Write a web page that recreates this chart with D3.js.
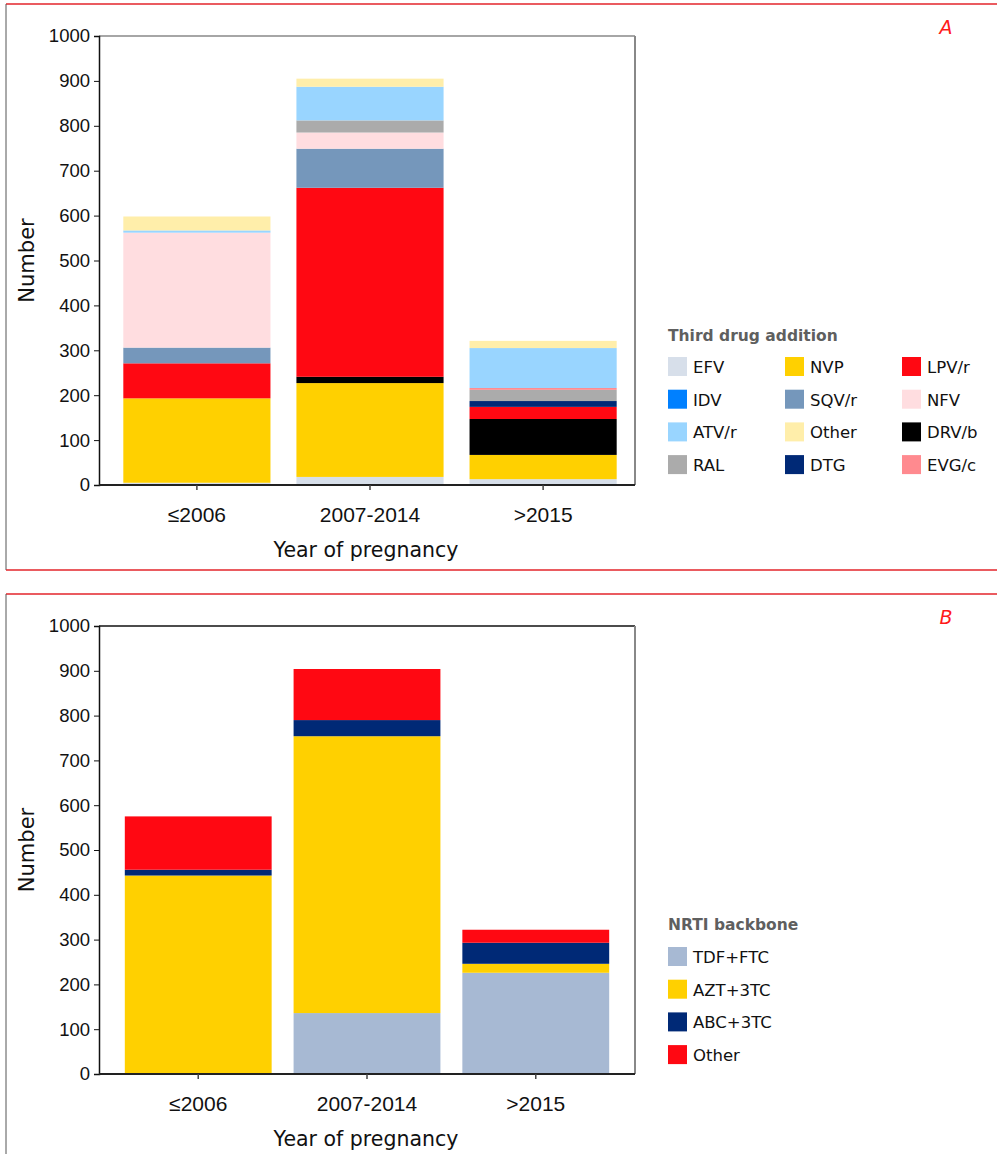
<!DOCTYPE html>
<html><head><meta charset="utf-8">
<script src="https://cdn.jsdelivr.net/npm/d3@7"></script>
<style>
body{margin:0;background:#fff;}
svg{display:block;font-family:"DejaVu Sans",Verdana,sans-serif;}
</style></head>
<body><svg id="chart" width="997" height="1154"></svg>
<script>
const categories = ["≤2006", "2007-2014", ">2015"];
const yTicks = [0, 100, 200, 300, 400, 500, 600, 700, 800, 900, 1000];

// Panel A: third drug addition (stack order bottom → top)
const drugKeys = ["EFV", "NVP", "DRV/b", "LPV/r", "DTG", "SQV/r", "NFV", "IDV", "RAL", "EVG/c", "ATV/r", "Other"];
const drugEFV   = [5, 18, 13];
const drugNVP   = [188, 209, 54];
const drugDRVb  = [0, 14, 80];
const drugLPVr  = [78, 421, 27];
const drugDTG   = [0, 0, 13];
const drugSQVr  = [35, 87, 0];
const drugNFV   = [256, 36, 0];
const drugIDV   = [0, 0, 0];
const drugRAL   = [0, 27, 25];
const drugEVGc  = [0, 0, 4];
const drugATVr  = [5, 75, 89];
const drugOther = [31, 18, 16];
const legendAOrder = ["EFV", "NVP", "LPV/r", "IDV", "SQV/r", "NFV", "ATV/r", "Other", "DRV/b", "RAL", "DTG", "EVG/c"];

// Panel B: NRTI backbone
const nrtiKeys = ["TDF+FTC", "AZT+3TC", "ABC+3TC", "Other"];
const nrtiTDF   = [0, 136, 226];
const nrtiAZT   = [443, 618, 20];
const nrtiABC   = [13, 36, 47];
const nrtiOther = [119, 114, 29];

const drugColors = {"EFV":"#d7dfea","IDV":"#0080ff","ATV/r":"#99d5ff","RAL":"#ababab","NVP":"#ffd000","SQV/r":"#7597bb","Other":"#ffeeaa","DTG":"#002976","LPV/r":"#ff0812","NFV":"#ffdde0","DRV/b":"#000000","EVG/c":"#ff8a8f"};
const nrtiColors = {"TDF+FTC":"#a7b9d3","AZT+3TC":"#ffd000","ABC+3TC":"#002976","Other":"#ff0812"};

const drugSeries = {"EFV":drugEFV,"NVP":drugNVP,"DRV/b":drugDRVb,"LPV/r":drugLPVr,"DTG":drugDTG,"SQV/r":drugSQVr,"NFV":drugNFV,"IDV":drugIDV,"RAL":drugRAL,"EVG/c":drugEVGc,"ATV/r":drugATVr,"Other":drugOther};
const nrtiSeries = {"TDF+FTC":nrtiTDF,"AZT+3TC":nrtiAZT,"ABC+3TC":nrtiABC,"Other":nrtiOther};

const svg = d3.select("#chart");
const red = "#e3242b";

function rows(series, keys){
  return categories.map((c,i)=>{const o={cat:c}; keys.forEach(k=>o[k]=series[k][i]); return o;});
}

function panel(cfg){
  const g = svg.append("g");
  // frame
  g.append("line").attr("x1",6).attr("x2",997).attr("y1",cfg.frameTop).attr("y2",cfg.frameTop).attr("stroke",red).attr("stroke-width",1.5);
  g.append("line").attr("x1",6).attr("x2",6).attr("y1",cfg.frameTop).attr("y2",cfg.frameBottom).attr("stroke","#555").attr("stroke-width",1);
  if (cfg.frameBottom < 1154)
    g.append("line").attr("x1",6).attr("x2",997).attr("y1",cfg.frameBottom).attr("y2",cfg.frameBottom).attr("stroke",red).attr("stroke-width",1.5);
  g.append("text").attr("x",946).attr("y",cfg.frameTop+30).attr("text-anchor","middle").attr("font-style","italic").attr("font-size",19).attr("fill","#ff1a1a").text(cfg.letter);

  const left = 99, right = 635, top = cfg.top, bottom = cfg.bottom;
  const y = d3.scaleLinear().domain([0,1000]).range([bottom, top]);
  const x = d3.scaleBand().domain(categories).range(cfg.xRange).paddingInner(cfg.padIn).paddingOuter(cfg.padOut);

  // box
  g.append("line").attr("x1",left).attr("x2",right).attr("y1",top).attr("y2",top).attr("stroke",cfg.topColor).attr("stroke-width",1.5);
  g.append("line").attr("x1",right).attr("x2",right).attr("y1",top).attr("y2",bottom).attr("stroke","#888").attr("stroke-width",2);

  const stack = d3.stack().keys(cfg.keys)(rows(cfg.series, cfg.keys));
  g.append("g").selectAll("g").data(stack).join("g").attr("fill",d=>cfg.colors[d.key])
    .selectAll("rect").data(d=>d).join("rect")
    .attr("x",d=>x(d.data.cat)).attr("width",x.bandwidth())
    .attr("y",d=>y(d[1])).attr("height",d=>Math.max(0,y(d[0])-y(d[1])));

  const ya = g.append("g").attr("transform",`translate(${left},0)`)
    .call(d3.axisLeft(y).tickValues(yTicks).tickFormat(d3.format("d")).tickSize(5).tickPadding(4));
  ya.select(".domain").attr("stroke","#111").attr("stroke-width",1.5);
  ya.selectAll(".tick line").attr("stroke","#111");
  ya.selectAll("text").attr("font-size",18.5).attr("fill","#111");

  const xa = g.append("g").attr("transform",`translate(0,${bottom})`)
    .call(d3.axisBottom(x).tickSize(5).tickPadding(17).tickSizeOuter(0));
  xa.select(".domain").attr("d",`M${left},0H${right}`).attr("stroke","#222").attr("stroke-width",2);
  xa.selectAll(".tick line").attr("stroke","#444").attr("stroke-width",1.5);
  xa.selectAll("text").attr("font-size",21).attr("fill","#111");

  g.append("text").attr("transform",`translate(34,${(top+bottom)/2}) rotate(-90)`).attr("text-anchor","middle")
    .attr("font-size",21).attr("fill","#111").text("Number");
  g.append("text").attr("x",366).attr("y",bottom+72).attr("text-anchor","middle")
    .attr("font-size",20.5).attr("fill","#111").text("Year of pregnancy");

  // legend
  const lg = g.append("g");
  lg.append("text").attr("x",668).attr("y",cfg.legendTitleY).attr("font-size",15.5).attr("font-weight","bold").attr("fill","#5f5f5f").text(cfg.legendTitle);
  cfg.legendOrder.forEach((k,i)=>{
    const col = i % cfg.cols, row = Math.floor(i / cfg.cols);
    const sx = 668 + col*cfg.colStep, sy = cfg.legendY0 + row*32.7;
    lg.append("rect").attr("x",sx).attr("y",sy).attr("width",19).attr("height",19).attr("fill",cfg.colors[k]);
    lg.append("text").attr("x",sx+25).attr("y",sy+16).attr("font-size",16.5).attr("fill","#111").text(k);
  });
}

panel({letter:"A", frameTop:4, frameBottom:570, top:36, bottom:485, topColor:"#888",
  xRange:[106,634], padIn:0.15, padOut:0.1,
  keys:drugKeys, series:drugSeries, colors:drugColors,
  legendTitle:"Third drug addition", legendTitleY:341, legendY0:357, legendOrder:legendAOrder, cols:3, colStep:117});

panel({letter:"B", frameTop:594, frameBottom:1154, top:626, bottom:1074, topColor:"#111",
  xRange:[113,621], padIn:0.13, padOut:0.07,
  keys:nrtiKeys, series:nrtiSeries, colors:nrtiColors,
  legendTitle:"NRTI backbone", legendTitleY:930, legendY0:947, legendOrder:nrtiKeys, cols:1, colStep:0});
</script>
</body></html>
